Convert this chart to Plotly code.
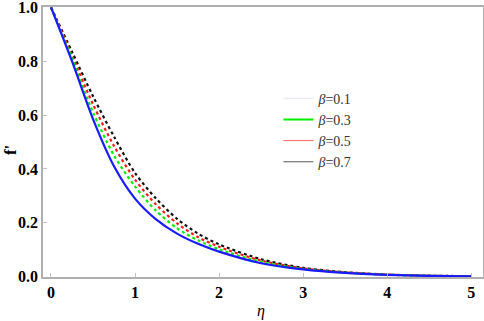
import plotly.graph_objects as go

eta = [0, 0.25, 0.5, 0.75, 1.0, 1.25, 1.5, 1.75, 2.0, 2.5, 3.0, 3.5, 4.0, 4.5, 5.0]

f_b01 = [1.0, 0.80, 0.585, 0.41, 0.29, 0.213, 0.160, 0.122, 0.093, 0.050, 0.027, 0.014, 0.007, 0.003, 0.001]
f_b03 = [1.0, 0.81, 0.61, 0.45, 0.335, 0.245, 0.180, 0.135, 0.102, 0.055, 0.029, 0.015, 0.0075, 0.0035, 0.0015]
f_b05 = [1.0, 0.82, 0.64, 0.485, 0.36, 0.268, 0.198, 0.147, 0.111, 0.060, 0.031, 0.016, 0.008, 0.0037, 0.0017]
f_b07 = [1.0, 0.835, 0.67, 0.52, 0.385, 0.29, 0.215, 0.16, 0.12, 0.065, 0.033, 0.017, 0.008, 0.004, 0.002]

labels = ["<i>β</i>=0.1", "<i>β</i>=0.3", "<i>β</i>=0.5", "<i>β</i>=0.7"]
series = [f_b01, f_b03, f_b05, f_b07]
colors = ["#1a1aff", "#00ee00", "#ff1a1a", "#111111"]
dashes = ["solid", "3px,3px", "3px,3px", "3px,3px"]
legend_colors = ["#e4e4f4", "#00ee00", "#ff6060", "#555555"]
legend_widths = [1, 2, 1, 1]

serif = "Liberation Serif, Times New Roman, serif"

fig = go.Figure()

# draw in reverse so the blue solid curve sits on top like the original
for ys, c, d in reversed(list(zip(series, colors, dashes))):
    fig.add_trace(go.Scatter(
        x=eta, y=ys, mode="lines",
        line=dict(color=c, width=2.2, dash=d, shape="spline", smoothing=0.8),
        showlegend=False, hoverinfo="skip"
    ))

# legend-only traces with short thin samples
for lab, c, w in zip(labels, legend_colors, legend_widths):
    fig.add_trace(go.Scatter(
        x=[None], y=[None], mode="lines",
        line=dict(color=c, width=w),
        name=lab
    ))

fig.update_layout(
    width=484, height=321,
    margin=dict(l=43, r=1, t=7, b=44),
    paper_bgcolor="white",
    plot_bgcolor="white",
    font=dict(family=serif, color="black"),
    showlegend=True,
    legend=dict(
        x=0.535, y=0.72, xanchor="left", yanchor="top",
        bgcolor="rgba(0,0,0,0)",
        font=dict(family=serif, size=14, color="#333333"),
        itemwidth=30,
        tracegroupgap=0
    ),
    xaxis=dict(
        range=[-0.095, 5.14],
        tickvals=[0, 1, 2, 3, 4, 5],
        tickfont=dict(family=serif, size=16, color="black", weight="bold"),
        ticklabeloverflow="allow",
        showgrid=False, zeroline=False, automargin=False,
        showline=True, linecolor="#b0b0b0", linewidth=1.5, mirror=True,
        ticks="inside", ticklen=4, tickcolor="#c0c0c0"
    ),
    yaxis=dict(
        range=[-0.001, 1.001],
        tickvals=[0, 0.2, 0.4, 0.6, 0.8, 1.0],
        tickformat=".1f",
        tickfont=dict(family=serif, size=16, color="black", weight="bold"),
        ticklabeloverflow="allow",
        showgrid=False, zeroline=False, automargin=False,
        showline=True, linecolor="#b0b0b0", linewidth=1.5, mirror=True,
        ticks="inside", ticklen=4, tickcolor="#c0c0c0"
    ),
    annotations=[
        dict(text="<i>η</i>", xref="paper", yref="paper", x=0.495, y=-0.125,
             xanchor="center", yanchor="middle", showarrow=False,
             font=dict(family=serif, size=16, color="black")),
        dict(text="<b>f'</b>", xref="paper", yref="paper", x=-0.075, y=0.47,
             xanchor="center", yanchor="middle", showarrow=False, textangle=-90,
             font=dict(family=serif, size=17, color="black")),
    ]
)

# page body has a default 8px margin; drop it so the chart fills the window
fig.write_html("out.html", config={"displayModeBar": False},
               post_script="document.body.style.margin='0';")
